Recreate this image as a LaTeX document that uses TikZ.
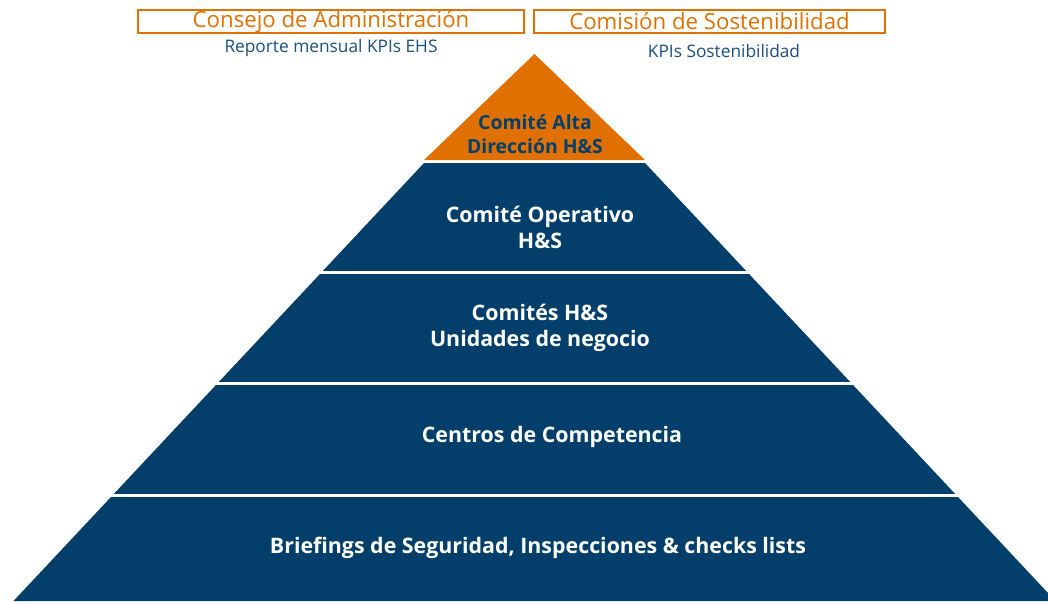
\documentclass[tikz,border=0pt]{standalone}
\usepackage{fontspec}
\setmainfont{Open Sans}
\usepackage{xcolor}
\usepackage{tikz}
\usetikzlibrary{positioning}
\definecolor{navy}{HTML}{033F6A}
\definecolor{ink}{HTML}{1B4F7C}
\definecolor{flame}{HTML}{E07000}
\tikzset{
  boxlabel/.style={draw=flame, line width=0.55mm, text=flame, minimum height=5.75mm,
    inner sep=0pt, font=\fontsize{15.8}{18}\selectfont},
  subnote/.style={text=ink, font=\fontsize{12.3}{14}\selectfont},
  tiertext/.style={text=white, align=center, font=\bfseries\fontsize{15.2}{18.5}\selectfont},
  toptext/.style={tiertext, text=navy, font=\bfseries\fontsize{13.8}{17.5}\selectfont},
  gap/.style={white, line width=0.7mm},
}
\begin{document}
\begin{tikzpicture}[x=0.25mm,y=-0.25mm]
  \useasboundingbox (0,0) rectangle (1048,601);
  \clip (0,0) rectangle (1048,601);

  % headers
  \node[boxlabel, minimum width=96.5mm] (board) at (331,21.5) {Consejo de Administración};
  \node[boxlabel, minimum width=87.75mm] (sust) at (709.5,21.5) {Comisión de Sostenibilidad};
  \node[subnote] (boardkpi) at (331,48) {Reporte mensual KPIs EHS};
  \node[subnote] (sustkpi) at (724,51) {KPIs Sostenibilidad};

  % pyramid
  \fill[flame] (534.5,54) -- (645,160) -- (424,160) -- cycle;
  \fill[navy] (424,163) -- (645,163) -- (1055.5,601) -- (13.5,601) -- cycle;
  \foreach \y in {272.5,383.5,495.5}
    \draw[gap] (0,\y) -- (1048,\y);

  % tiers
  \node[toptext] (alta) at (535,134) {Comité Alta\\Dirección H\&S};
  \node[tiertext] (oper) at (540,227) {Comité Operativo\\H\&S};
  \node[tiertext] (units) at (540,328) {Comités H\&S\\Unidades de negocio};
  \node[tiertext] (centros) at (552,437) {Centros de Competencia};
  \node[tiertext] (brief) at (538,548) {Briefings de Seguridad, Inspecciones \& checks lists};
\end{tikzpicture}
\end{document}
